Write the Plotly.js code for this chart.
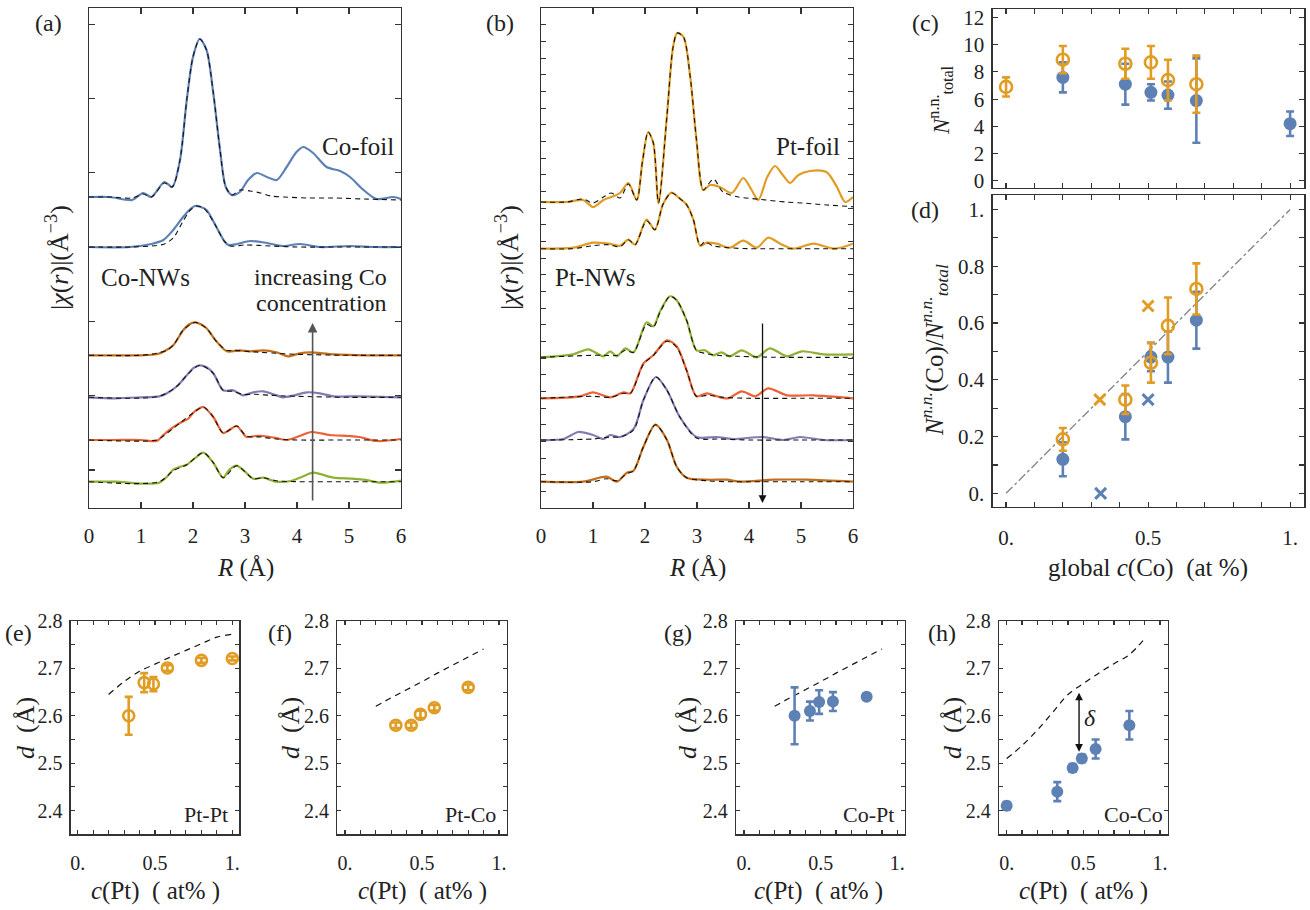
<!DOCTYPE html>
<html><head><meta charset="utf-8">
<script src="https://cdn.plot.ly/plotly-3.0.1.min.js"></script>
<style>html,body{margin:0;padding:0;background:#fff}#chart{width:1310px;height:910px}</style>
</head><body><div id="chart"></div>
<script>
// ---------- Panel (a): Co K-edge |chi(r)| (offsets = stacking baselines, arbitrary units) ----------
const aNames = ['Co-foil','Co-NW1','Co-NW2','Co-NW3','Co-NW4','Co-NW5'];
const aOffsets = [311, 261, 152.7, 110.7, 68, 26.3];
const aR = [
  [0,0.4,0.83,1.04,1.2,1.45,1.6,1.75,1.88,2.0,2.13,2.26,2.39,2.52,2.63,2.75,2.9,3.06,3.23,3.42,3.61,3.8,3.99,4.12,4.31,4.57,4.83,5.02,5.28,5.53,5.85,6.0],
  [0,0.79,1.2,1.43,1.62,1.81,1.93,2.04,2.15,2.26,2.45,2.6,2.68,2.85,3.1,3.42,3.73,4.06,4.44,5.02,5.5,6.0],
  [0,1.0,1.3,1.45,1.62,1.81,1.93,2.04,2.15,2.26,2.45,2.65,2.9,3.1,3.35,3.6,3.83,4.05,4.25,4.7,5.35,6.0],
  [0,0.5,1.0,1.35,1.5,1.69,1.88,2.0,2.13,2.26,2.39,2.58,2.77,2.96,3.16,3.35,3.55,3.73,3.95,4.19,4.44,4.7,5.2,6.0],
  [0,0.5,1.0,1.3,1.43,1.6,1.75,1.9,2.0,2.1,2.2,2.39,2.58,2.7,2.84,3.03,3.2,3.35,3.6,3.8,4.05,4.28,4.63,5.0,5.2,5.53,6.0],
  [0,0.5,1.04,1.35,1.5,1.62,1.75,1.88,2.05,2.2,2.39,2.58,2.7,2.84,3.0,3.16,3.35,3.6,3.9,4.1,4.31,4.7,5.06,5.3,5.6,6.0]
];
const aChi = [
  [0,0,-3,4,0,15,10,37,97,140,158,147,104,47,10,2,5,17,24,20,17,30,45,50,44,30,26,20,7,-2,0,-2],
  [0,0,3,7,17,30,37,41,40,37,20,6,2,3,6,4,1,3,0,1,0,0],
  [0,0,1,4,10,25,31,33,31,27,14,4,5,4,5,3,-1,2,3,1,0,0],
  [0,-1,0,1,4,11,22,29,32,30,24,7,7,2,5,6,3,0,2,5,4,1,1,0],
  [0,0,0,-1,5,12,17,21,27,31,33,23,7,10,14,3,4,4,2,0,4,8,5,4,3,-1,1],
  [0,0,-2,-1,5,12,15,17,24,29,19,4,12,16,10,3,4,0,1,5,9,4,3,2,-1,1]
];
const aFitR = [
  [0,0.4,0.83,1.04,1.2,1.45,1.6,1.75,1.88,2.0,2.13,2.26,2.39,2.52,2.63,2.75,2.9,3.1,3.3,3.5,3.75,4.2,4.7,5.3,6.0],
  [0,0.8,1.2,1.45,1.62,1.8,1.95,2.07,2.2,2.3,2.45,2.6,2.72,3.0,3.5,4.0,5.0,6.0],
  [0,1.0,1.3,1.5,1.62,1.81,2.04,2.26,2.45,2.65,2.8,3.0,3.3,3.6,4.0,5,6],
  [0,1.35,1.69,1.88,2.13,2.39,2.58,2.77,2.96,3.2,3.5,4,5,6],
  [0,1.3,1.43,1.75,2.0,2.2,2.39,2.58,2.84,3.03,3.3,3.6,4,5,6],
  [0,1.35,1.62,1.88,2.2,2.39,2.58,2.84,3.16,3.35,3.6,4,5,6]
];
const aFit = [
  [0,0,-1,3,0,14,10,37,97,140,158,147,104,47,10,2,7,6,4,1,0,-1,-1,-2,-3],
  [0,0,1,3,9,25,37,41,39,33,20,6,1,2,1,0,0,0],
  [0,0,2,5,10,25,33,27,14,5,5,4,3,2,1,0,0],
  [0,1,11,22,32,24,7,6,3,3,2,1,0,0],
  [0,0,4,17,27,33,23,7,14,4,3,1,0,0,0],
  [0,0,11,17,29,19,4,16,3,4,1,0,0,0]
];
// ---------- Panel (b): Pt L3-edge |chi(r)| ----------
const bNames = ['Pt-foil','Pt-NW1','Pt-NW2','Pt-NW3','Pt-NW4','Pt-NW5'];
const bOffsets = [306, 259.3, 150.7, 109.7, 68, 26.3];
const bR = [
  [0,0.5,0.81,1.0,1.2,1.35,1.52,1.68,1.84,1.95,2.06,2.16,2.26,2.42,2.54,2.62,2.74,2.87,2.99,3.12,3.25,3.44,3.67,3.89,4.05,4.18,4.35,4.5,4.65,4.79,4.95,5.17,5.49,5.69,5.85,6.0],
  [0,0.62,1.0,1.3,1.52,1.68,1.81,2.03,2.19,2.35,2.51,2.65,2.8,2.93,3.06,3.19,3.38,3.63,3.89,4.15,4.37,4.6,4.85,5.24,5.65,6.0],
  [0,0.62,0.91,1.2,1.33,1.46,1.62,1.78,2.03,2.16,2.29,2.48,2.61,2.8,2.99,3.15,3.31,3.47,3.63,3.86,4.15,4.4,4.73,5.02,5.43,6.0],
  [0,0.75,1.0,1.33,1.59,1.72,1.97,2.16,2.42,2.61,2.8,2.99,3.19,3.38,3.6,3.86,4.12,4.37,4.73,5.24,6.0],
  [0,0.43,0.72,1.0,1.2,1.33,1.52,1.78,1.97,2.21,2.42,2.67,2.99,3.38,3.69,4.27,4.66,4.98,5.43,6.0],
  [0,0.81,1.26,1.46,1.65,1.78,1.97,2.2,2.42,2.61,2.8,3.19,3.57,3.83,4.47,5.11,6.0]
];
const bChi = [
  [0,0,2,-5,2,5,9,19,2,40,70,59,-1,85,155,169,165,125,62,12,17,15,9,24,12,2,25,36,27,19,27,31,30,15,0,5],
  [0,1,6,5,3,9,4,29,19,45,56,51,44,29,3,6,5,1,8,1,11,5,0,5,0,5],
  [0,3,8,1,6,1,9,5,35,31,46,61,57,37,7,7,2,5,1,7,0,9,1,6,3,3],
  [0,2,6,1,6,5,35,43,58,52,28,2,5,2,0,7,2,10,3,3,0],
  [0,1,8,5,1,5,3,11,40,63,50,23,3,3,1,3,0,3,0,0],
  [0,0,5,0,9,11,35,57,42,15,4,2,2,0,2,2,0]
];
const bFitR = [
  [0,0.5,0.81,1.0,1.2,1.35,1.52,1.68,1.84,1.95,2.06,2.16,2.26,2.42,2.54,2.62,2.74,2.87,2.99,3.12,3.22,3.32,3.5,3.8,4.2,4.7,5.1,5.5,6.0],
  [0,0.6,1.0,1.3,1.52,1.68,1.81,2.03,2.19,2.35,2.51,2.65,2.8,2.93,3.06,3.15,3.3,3.6,4,5,6],
  [0,1.0,1.2,1.46,1.62,1.78,2.03,2.16,2.29,2.48,2.61,2.8,2.99,3.15,3.4,3.8,4.5,6],
  [0,1.0,1.33,1.59,1.72,1.97,2.16,2.42,2.61,2.8,2.99,3.2,3.5,4,5,6],
  [0,1.0,1.33,1.52,1.78,1.97,2.21,2.42,2.67,2.99,3.4,4,5,6],
  [0,1.0,1.26,1.46,1.65,1.78,1.97,2.2,2.42,2.61,2.8,3.19,3.6,4,5,6]
];
const bFit = [
  [0,0,3,-1,5,9,4,18,2,40,70,59,-1,85,155,169,165,125,62,12,18,23,10,5,2.7,0,-1.3,-3,-4.7],
  [0,0,3,4,2,9,4,28,19,45,56,51,44,29,3,7,3,1,0,0,0],
  [0,2,2,2,7,5,33,30,45,61,57,37,7,4,2,1,0,0],
  [0,2,1,5,5,34,43,57,51,28,2,3,1,0,0,0],
  [0,1,3,3,10,40,63,50,23,2,1,0,0,0],
  [0,0,3,1,8,11,35,57,42,15,4,1,0,0,0,0]
];
// ---------- Panel (c): total coordination number ----------
const cPtX = [0, 0.2, 0.42, 0.51, 0.57, 0.67];
const cPtN = [6.9, 8.9, 8.6, 8.7, 7.4, 7.1];
const cPtErr = [0.7, 1.0, 1.1, 1.2, 1.5, 2.1];
const cCoX = [0.2, 0.42, 0.51, 0.57, 0.67, 1.0];
const cCoN = [7.6, 7.1, 6.5, 6.3, 5.9, 4.2];
const cCoErr = [1.1, 1.5, 0.6, 1.0, 3.1, 0.9];
// ---------- Panel (d): Co fraction of neighbours ----------
const dPtX = [0.2, 0.42, 0.51, 0.57, 0.67];
const dPtF = [0.19, 0.33, 0.46, 0.59, 0.72];
const dPtErr = [0.04, 0.05, 0.07, 0.1, 0.09];
const dCoX = [0.2, 0.42, 0.51, 0.57, 0.67];
const dCoF = [0.12, 0.27, 0.48, 0.48, 0.61];
const dCoErr = [0.06, 0.08, 0.05, 0.09, 0.1];
const dPtCrossX = [0.33, 0.5];
const dPtCrossF = [0.33, 0.66];
const dCoCrossX = [0.333, 0.5];
const dCoCrossF = [0, 0.33];
const dRandomX = [0, 1];
const dRandomF = [0, 1];
// ---------- Panels (e)-(h): bond distances ----------
const ePtPtX = [0.33, 0.43, 0.49, 0.58, 0.8, 1.0];
const ePtPtD = [2.6, 2.67, 2.667, 2.701, 2.717, 2.721];
const ePtPtErr = [0.04, 0.02, 0.015, 0.006, 0.005, 0.004];
const eVegX = [0.2, 0.3, 0.4, 0.5, 0.6, 0.7, 0.8, 0.9, 1.0];
const eVegD = [2.645, 2.672, 2.694, 2.709, 2.724, 2.738, 2.752, 2.766, 2.772];
const fPtCoX = [0.33, 0.43, 0.49, 0.58, 0.8];
const fPtCoD = [2.58, 2.58, 2.603, 2.617, 2.66];
const fPtCoErr = [0.006, 0.006, 0.008, 0.006, 0.006];
const fVegX = [0.2, 0.3, 0.4, 0.5, 0.6, 0.7, 0.8, 0.9];
const fVegD = [2.62, 2.638, 2.655, 2.672, 2.69, 2.707, 2.724, 2.741];
const gCoPtX = [0.33, 0.43, 0.49, 0.58, 0.8];
const gCoPtD = [2.6, 2.61, 2.629, 2.63, 2.64];
const gCoPtErr = [0.06, 0.02, 0.025, 0.02, 0.006];
const gVegX = [0.2, 0.3, 0.4, 0.5, 0.6, 0.7, 0.8, 0.9];
const gVegD = [2.62, 2.638, 2.655, 2.672, 2.69, 2.707, 2.724, 2.741];
const hCoCoX = [0, 0.33, 0.43, 0.49, 0.58, 0.8];
const hCoCoD = [2.41, 2.44, 2.49, 2.51, 2.53, 2.58];
const hCoCoErr = [0.008, 0.02, 0.008, 0.008, 0.02, 0.03];
const hVegX = [0, 0.1, 0.2, 0.3, 0.4, 0.5, 0.6, 0.7, 0.8, 0.9];
const hVegD = [2.51, 2.537, 2.57, 2.607, 2.645, 2.668, 2.69, 2.71, 2.729, 2.763];
// tick labels
const fracTicks = [0, 0.5, 1];
const fracTickText = ['0.', '0.5', '1.'];
const dFracTicks = [0, 0.2, 0.4, 0.6, 0.8, 1];
const dFracTickText = ['0.', '0.2', '0.4', '0.6', '0.8', '1.'];
const distTicks = [2.4, 2.5, 2.6, 2.7, 2.8];
const distTickText = ['2.4', '2.5', '2.6', '2.7', '2.8'];
const nTicks = [0, 2, 4, 6, 8, 10, 12];

// ---------- styles ----------
const FONT = 'Liberation Serif';
const BLUE = '#5e81b5', ORANGE = '#e19c24', GREEN = '#8fb032', RED = '#eb6235', PURPLE = '#8779b3', BROWN = '#c56e1a';
const aColors = [BLUE, BLUE, BROWN, PURPLE, RED, GREEN];
const bColors = [ORANGE, ORANGE, GREEN, RED, PURPLE, BROWN];

const traces = [];
function addSpectra(Rs, chis, fitRs, fits, offs, colors, names, xa, ya) {
  for (let i = 0; i < Rs.length; i++) {
    traces.push({x: Rs[i], y: chis[i].map(v => v + offs[i]), xaxis: xa, yaxis: ya, mode: 'lines', name: names[i],
      line: {color: colors[i], width: 2.2, shape: 'spline', smoothing: 0.8}, hoverinfo: 'skip'});
  }
  for (let i = 0; i < Rs.length; i++) {
    traces.push({x: fitRs[i], y: fits[i].map(v => v + offs[i]), xaxis: xa, yaxis: ya, mode: 'lines', name: names[i] + ' fit',
      line: {color: '#111', width: 1.1, dash: '5px,4px', shape: 'spline', smoothing: 0.8}, hoverinfo: 'skip'});
  }
}
addSpectra(aR, aChi, aFitR, aFit, aOffsets, aColors, aNames, 'x', 'y');
addSpectra(bR, bChi, bFitR, bFit, bOffsets, bColors, bNames, 'x2', 'y2');

function pts(x, y, err, color, open, xa, ya, size) {
  return {x, y, xaxis: xa, yaxis: ya, mode: 'markers',
    error_y: err ? {type: 'data', array: err, visible: true, color: color, thickness: 2.6, width: 4} : undefined,
    marker: open ? {symbol: 'circle-open', size: size - 1, color: color, line: {width: 2.6, color: color}}
                 : {symbol: 'circle', size: size, color: color, line: {width: 0}}};
}
// (d) reference diagonal
traces.push({x: dRandomX, y: dRandomF, xaxis: 'x4', yaxis: 'y4', mode: 'lines', line: {color: '#888', width: 1.4, dash: 'dashdot'}});
// (c)
traces.push(pts(cCoX, cCoN, cCoErr, BLUE, false, 'x3', 'y3', 13));
traces.push(pts(cPtX, cPtN, cPtErr, ORANGE, true, 'x3', 'y3', 13));
// (d)
traces.push(pts(dCoX, dCoF, dCoErr, BLUE, false, 'x4', 'y4', 13));
traces.push(pts(dPtX, dPtF, dPtErr, ORANGE, true, 'x4', 'y4', 13));
traces.push({x: dPtCrossX, y: dPtCrossF, xaxis: 'x4', yaxis: 'y4', mode: 'markers', marker: {symbol: 'x-thin-open', size: 11, color: ORANGE, line: {width: 3, color: ORANGE}}});
traces.push({x: dCoCrossX, y: dCoCrossF, xaxis: 'x4', yaxis: 'y4', mode: 'markers', marker: {symbol: 'x-thin-open', size: 11, color: BLUE, line: {width: 3, color: BLUE}}});
// (e)-(h)
const dashLine = {color: '#111', width: 1.2, dash: '6px,5px', shape: 'spline'};
traces.push({x: eVegX, y: eVegD, xaxis: 'x5', yaxis: 'y5', mode: 'lines', line: dashLine});
traces.push(pts(ePtPtX, ePtPtD, ePtPtErr, ORANGE, true, 'x5', 'y5', 12));
traces.push({x: fVegX, y: fVegD, xaxis: 'x6', yaxis: 'y6', mode: 'lines', line: dashLine});
traces.push(pts(fPtCoX, fPtCoD, fPtCoErr, ORANGE, true, 'x6', 'y6', 12));
traces.push({x: gVegX, y: gVegD, xaxis: 'x7', yaxis: 'y7', mode: 'lines', line: dashLine});
traces.push(pts(gCoPtX, gCoPtD, gCoPtErr, BLUE, false, 'x7', 'y7', 12));
traces.push({x: hVegX, y: hVegD, xaxis: 'x8', yaxis: 'y8', mode: 'lines', line: dashLine});
traces.push(pts(hCoCoX, hCoCoD, hCoCoErr, BLUE, false, 'x8', 'y8', 12));

// ---------- axes ----------
const W = 1310, H = 910;
const px = (a, b) => [a / W, b / W];
const py = (top, bottom) => [1 - bottom / H, 1 - top / H];
function ax(domain, range, anchor, extra) {
  return Object.assign({domain, range, anchor, showgrid: false, zeroline: false, showline: true, linecolor: '#333', linewidth: 1.3,
    mirror: 'ticks', ticks: 'inside', ticklen: 6, tickcolor: '#333', tickwidth: 1.1,
    tickfont: {family: FONT, size: 21, color: '#222'}, fixedrange: true}, extra || {});
}
const tf = s => ({family: FONT, size: s, color: '#222'});
const minorX = len => ({tick0: 0, dtick: 0.1, ticks: 'inside', ticklen: len, tickcolor: '#333', tickwidth: 1.1, showgrid: false});
const eY = py(621, 834.3);
const eX = {tickvals: fracTicks, ticktext: fracTickText, ticklen: 4, minor: minorX(4), ticklabelstandoff: 10, tickfont: tf(20)};
const eYx = {tickvals: distTicks, ticktext: distTickText, ticklen: 4, tickfont: tf(20), ticklabelstandoff: 3,
  minor: {tick0: 2.35, dtick: 0.05, ticks: 'inside', ticklen: 4, tickcolor: '#333', tickwidth: 1.1, showgrid: false}};

const layout = {
  width: W, height: H, margin: {l: 0, r: 0, t: 0, b: 0}, paper_bgcolor: '#fff', plot_bgcolor: '#fff', showlegend: false,
  font: {family: FONT, color: '#222'},
  xaxis: ax(px(89, 401), [0, 6], 'y', {dtick: 1, tick0: 0, ticklabelstandoff: 8}),
  yaxis: ax(py(8, 508), [0, 500], 'x', {tick0: 38, dtick: 74.3, showticklabels: false}),
  xaxis2: ax(px(541, 853), [0, 6], 'y2', {dtick: 1, tick0: 0, ticklabelstandoff: 8}),
  yaxis2: ax(py(8, 508), [0, 500], 'x2', {tick0: 16.5, dtick: 16.67, showticklabels: false, ticklen: 5}),
  xaxis3: ax(px(992.7, 1304.3), [-0.047, 1.05], 'y3', {tick0: 0, dtick: 0.1, showticklabels: false, ticklen: 5}),
  yaxis3: ax(py(9.3, 187.7), [-0.5, 12.6], 'x3', {tickvals: nTicks, ticklen: 5, ticklabelstandoff: 3}),
  xaxis4: ax(px(992.7, 1304.3), [-0.047, 1.05], 'y4', {tickvals: fracTicks, ticktext: fracTickText, ticklen: 5, minor: minorX(5), ticklabelstandoff: 12}),
  yaxis4: ax(py(195, 506.7), [-0.047, 1.051], 'x4', {tickvals: dFracTicks, ticktext: dFracTickText, ticklen: 5, minor: minorX(5), ticklabelstandoff: 3}),
  xaxis5: ax(px(70.7, 239.3), [-0.045, 1.045], 'y5', eX),
  yaxis5: ax(eY, [2.35, 2.8], 'x5', eYx),
  xaxis6: ax(px(337.3, 506.7), [-0.05, 1.05], 'y6', eX),
  yaxis6: ax(eY, [2.35, 2.8], 'x6', eYx),
  xaxis7: ax(px(736, 905), [-0.052, 1.05], 'y7', eX),
  yaxis7: ax(eY, [2.35, 2.8], 'x7', eYx),
  xaxis8: ax(px(999, 1168), [-0.05, 1.052], 'y8', eX),
  yaxis8: ax(eY, [2.35, 2.8], 'x8', eYx),
  annotations: []
};

function txt(text, x, y, opts) {
  layout.annotations.push(Object.assign({text, x: x / W, y: 1 - y / H, xref: 'paper', yref: 'paper', showarrow: false,
    xanchor: 'center', yanchor: 'middle', font: tf(24)}, opts || {}));
}
// panel letters
[['(a)',48,23],['(b)',500,23],['(c)',925,23],['(d)',925,210],['(e)',18,633],['(f)',280,633],['(g)',678,633],['(h)',942,633]]
  .forEach(([t, x, y]) => txt(t, x, y, {font: tf(24)}));
// axis titles
txt('<i>R</i> (Å)', 245, 568, {font: tf(25)});
txt('<i>R</i> (Å)', 697, 568, {font: tf(25)});
txt('|<i>χ</i>(<i>r</i>)|(Å<sup>−3</sup>)', 57, 258, {textangle: -90, font: tf(26)});
txt('|<i>χ</i>(<i>r</i>)|(Å<sup>−3</sup>)', 507, 258, {textangle: -90, font: tf(26)});
txt('<i>N</i><sup>n.n.</sup><sub>total</sub>', 940, 100, {textangle: -90, font: tf(23)});
txt('<i>N<sup>n.n.</sup></i>(Co)/<i>N<sup>n.n.</sup><sub>total</sub></i>', 934, 350, {textangle: -90, font: tf(25)});
txt('global <i>c</i>(Co)  (at %)', 1148, 568, {font: tf(25)});
[[155,25],[422,290],[818,687],[1083,952]].forEach(([cx, yx]) => {
  txt('<i>c</i>(Pt)  ( at% )', cx, 891, {font: tf(25)});
  txt('<i>d</i>  (Å)', yx, 728, {textangle: -90, font: tf(26)});
});
// labels in plots
txt('Co-foil', 358, 147, {font: tf(25)});
txt('Co-NWs', 145, 277, {font: tf(25)});
txt('increasing Co', 389, 277, {xanchor: 'right', font: tf(24)});
txt('concentration', 389, 303, {xanchor: 'right', font: tf(24)});
txt('Pt-foil', 808, 146, {font: tf(25)});
txt('Pt-NWs', 595, 277, {font: tf(25)});
txt('Pt-Pt', 206, 814, {font: tf(22)});
txt('Pt-Co', 470, 814, {font: tf(22)});
txt('Co-Pt', 868, 814, {font: tf(22)});
txt('Co-Co', 1133, 814, {font: tf(22)});
txt('<i>δ</i>', 1090, 718, {font: tf(24)});
// arrows
layout.annotations.push({xref: 'x', yref: 'y', axref: 'x', ayref: 'y', x: 4.3, y: 185, ax: 4.3, ay: 6, text: '', showarrow: true,
  arrowhead: 2, arrowsize: 1.2, arrowwidth: 1.6, arrowcolor: '#555'});
layout.annotations.push({xref: 'x2', yref: 'y2', axref: 'x2', ayref: 'y2', x: 4.26, y: 5, ax: 4.26, ay: 186, text: '', showarrow: true,
  arrowhead: 2, arrowsize: 1.2, arrowwidth: 1.3, arrowcolor: '#111'});
layout.annotations.push({xref: 'x8', yref: 'y8', axref: 'x8', ayref: 'y8', x: 0.472, y: 2.524, ax: 0.472, ay: 2.652, text: '', showarrow: true,
  arrowhead: 2, startarrowhead: 2, arrowside: 'end+start', arrowsize: 1.1, startarrowsize: 1.1, arrowwidth: 1.4, arrowcolor: '#111'});

Plotly.newPlot('chart', traces, layout, {staticPlot: true, displayModeBar: false});
</script></body></html>
